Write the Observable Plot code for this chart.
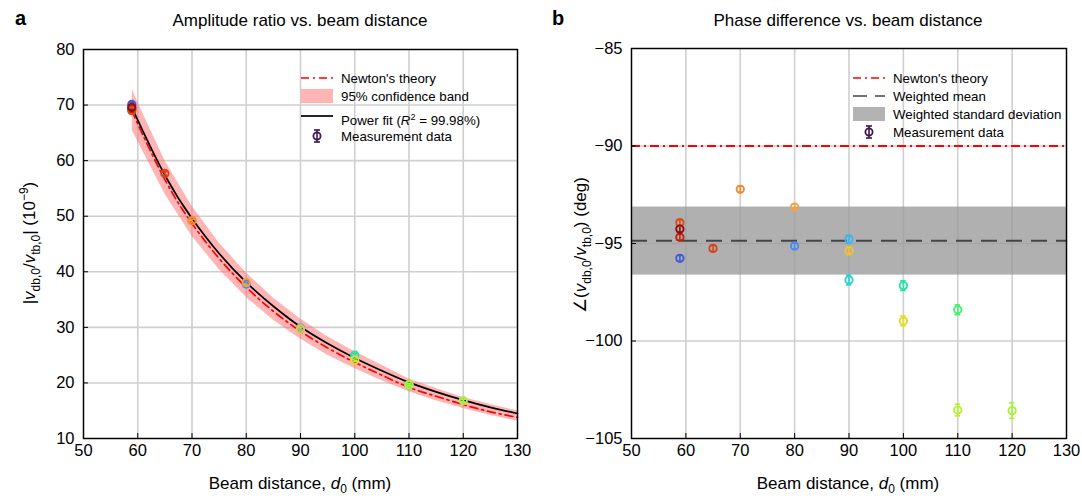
<!DOCTYPE html>
<html><head><meta charset="utf-8">
<script src="https://cdn.jsdelivr.net/npm/d3@7"></script>
<script src="https://cdn.jsdelivr.net/npm/@observablehq/plot@0.6"></script>
<style>
body{margin:0;background:#fff;font-family:"Liberation Sans",Arial,sans-serif;}
#wrap{position:relative;width:1082px;height:498px;display:flex;overflow:hidden;}
#wrap svg{display:block;}
.lg{position:absolute;height:18px;display:flex;align-items:center;font-size:13.3px;color:#000;white-space:nowrap;}
.lg svg{margin-right:8px;}
</style></head><body><div id="wrap"></div>
<script>
// ---------- data ----------
const xTicks = [50, 60, 70, 80, 90, 100, 110, 120, 130];
const ampTicks = [10, 20, 30, 40, 50, 60, 70, 80];
const phaseTicks = [-105, -100, -95, -90, -85];

// measurements (one entry per beam configuration)
const distances   = [58.9, 58.9, 58.9, 58.9, 65, 70, 80, 80, 90, 90, 90, 100, 100, 110, 110, 120];
const amplitude   = [70.1, 69.3, 69.0, 69.6, 57.7, 49.2, 37.8, 38.1, 29.8, 29.9, 29.7, 25.0, 24.1, 19.6, 19.7, 16.8];
const amplitudeErr= [0.4, 0.4, 0.4, 0.4, 0.3, 0.3, 0.3, 0.3, 0.25, 0.25, 0.25, 0.25, 0.25, 0.2, 0.2, 0.2];
const phase       = [-95.76, -94.68, -93.93, -94.26, -95.25, -92.22, -95.13, -93.13, -96.87, -94.78, -95.37, -97.16, -98.97, -98.40, -103.54, -103.57];
const phaseErr    = [0.15, 0.15, 0.15, 0.15, 0.15, 0.15, 0.15, 0.15, 0.25, 0.2, 0.2, 0.25, 0.25, 0.25, 0.3, 0.4];
const pointColors = ["#3d5bd6", "#c41e0e", "#e04a1a", "#8e0b0b", "#d9421b", "#f28a2e", "#4a8cf2", "#f5a43c",
                     "#26d4d4", "#3ab6f2", "#f2c22e", "#22e6a6", "#dede22", "#44f070", "#b6f032", "#a6f23e"];

// curves
const curveD     = [59, 60, 65, 70, 75, 80, 85, 90, 95, 100, 105, 110, 115, 120, 125, 130];
const powerFit   = [69.6, 67.3, 57.4, 49.6, 43.3, 38.1, 33.8, 30.1, 27.1, 24.5, 22.2, 20.1, 18.4, 16.9, 15.6, 14.5];
const newton     = [69.0, 66.6, 56.6, 48.7, 42.4, 37.2, 32.9, 29.3, 26.3, 23.7, 21.4, 19.2, 17.6, 16.1, 14.8, 13.8];
const bandLow    = [65.4, 63.5, 54.0, 46.4, 40.4, 35.4, 31.3, 27.9, 25.0, 22.6, 20.4, 18.4, 16.8, 15.4, 14.2, 13.1];
const bandHigh   = [72.8, 70.5, 60.0, 51.8, 45.2, 39.8, 35.3, 31.5, 28.3, 25.6, 23.2, 20.7, 19.0, 17.4, 16.1, 15.0];

// phase panel reference values
const newtonPhase = [-90];
const weightedMean = [-94.86];
const weightedSD = [{lo: -96.62, hi: -93.13}];

// ---------- tables ----------
const meas = distances.map((d, i) => ({
  d, a: amplitude[i], ae: amplitudeErr[i], p: phase[i], pe: phaseErr[i], c: pointColors[i]
}));
const curves = curveD.map((d, i) => ({d, fit: powerFit[i], nt: newton[i], lo: bandLow[i], hi: bandHigh[i]}));

const FONT = "Liberation Sans, Arial, sans-serif";
const gridStyle = {stroke: "#cfcfcf", strokeOpacity: 1, strokeWidth: 1.6};

function errorMarks(yKey, eKey) {
  return [
    Plot.ruleX(meas, {x: "d", y1: r => r[yKey] - r[eKey], y2: r => r[yKey] + r[eKey], stroke: "c", strokeWidth: 1.6}),
    Plot.ruleY(meas, {y: r => r[yKey] - r[eKey], x1: r => r.d - 0.5, x2: r => r.d + 0.5, stroke: "c", strokeWidth: 1.6}),
    Plot.ruleY(meas, {y: r => r[yKey] + r[eKey], x1: r => r.d - 0.5, x2: r => r.d + 0.5, stroke: "c", strokeWidth: 1.6}),
    Plot.dot(meas, {x: "d", y: yKey, r: 3.7, stroke: "c", strokeWidth: 1.9, fill: "none"})
  ];
}

const left = Plot.plot({
  width: 541, height: 498,
  marginLeft: 83, marginRight: 24, marginTop: 49, marginBottom: 60,
  style: {fontFamily: FONT, fontSize: "16.5px", color: "#000", background: "#fff", overflow: "visible"},
  color: {type: "identity"},
  x: {domain: [50, 130]},
  y: {domain: [10, 80]},
  marks: [
    Plot.gridX(xTicks, gridStyle),
    Plot.gridY(ampTicks, gridStyle),
    Plot.areaY(curves, {x: "d", y1: "lo", y2: "hi", fill: "#ff6b6b", fillOpacity: 0.5}),
    Plot.line(curves, {x: "d", y: "nt", stroke: "#ff0000", strokeWidth: 1.7, strokeDasharray: "8,4,2,4", curve: "natural"}),
    Plot.line(curves, {x: "d", y: "fit", stroke: "#000", strokeWidth: 1.7, curve: "natural"}),
    ...errorMarks("a", "ae"),
    Plot.frame({stroke: "#000", strokeWidth: 1.4}),
    Plot.axisX({ticks: xTicks, tickSize: -5, tickPadding: 11, label: null, tickFormat: d3.format("d")}),
    Plot.axisY({ticks: ampTicks, tickSize: -5, tickPadding: 14, label: null, tickFormat: d3.format("d")})
  ]
});

const right = Plot.plot({
  width: 541, height: 498,
  marginLeft: 90, marginRight: 16, marginTop: 48, marginBottom: 60,
  style: {fontFamily: FONT, fontSize: "16.5px", color: "#000", background: "#fff", overflow: "visible"},
  color: {type: "identity"},
  x: {domain: [50, 130]},
  y: {domain: [-105, -85]},
  marks: [
    Plot.gridX(xTicks, gridStyle),
    Plot.gridY(phaseTicks, gridStyle),
    Plot.rect(weightedSD, {y1: "lo", y2: "hi", fill: "#9a9a9a", fillOpacity: 0.78}),
    Plot.ruleY(newtonPhase, {stroke: "#ff0000", strokeWidth: 2, strokeDasharray: "9,4,2,4"}),
    Plot.ruleY(weightedMean, {stroke: "#444", strokeWidth: 2, strokeDasharray: "16,9"}),
    ...errorMarks("p", "pe"),
    Plot.frame({stroke: "#000", strokeWidth: 1.4}),
    Plot.axisX({ticks: xTicks, tickSize: -5, tickPadding: 11, label: null, tickFormat: d3.format("d")}),
    Plot.axisY({ticks: phaseTicks, tickSize: -5, tickPadding: 14, label: null})
  ]
});

// ---------- text helpers ----------
function addText(svg, x, y, rotate, parts, size, weight, anchor) {
  const t = d3.select(svg).append("text")
    .attr("transform", `translate(${x},${y}) rotate(${rotate})`)
    .attr("text-anchor", anchor || "middle")
    .attr("fill", "#000")
    .style("font-family", FONT)
    .style("font-size", size + "px")
    .style("font-weight", weight || "normal");
  parts.forEach(p => {
    const s = t.append("tspan").text(p.t);
    if (p.i) s.style("font-style", "italic");
    if (p.dy) s.attr("dy", p.dy);
    if (p.s) s.style("font-size", p.s + "px");
  });
}
const sub = (t, dy) => ({t, dy: dy || 5, s: 12});
const back = (t, dy) => ({t, dy: dy || -5});

// left texts
addText(left, 15, 25, 0, [{t: "a"}], 20, "bold", "start");
addText(left, 300, 26, 0, [{t: "Amplitude ratio vs. beam distance"}], 17);
addText(left, 300, 489, 0, [{t: "Beam distance, "}, {t: "d", i: 1}, sub("0", 4), back(" (mm)", -4)], 17);
addText(left, 35, 243, -90, [{t: "|"}, {t: "v", i: 1}, sub("db,0"), back("/"), {t: "v", i: 1}, sub("tb,0"), back("| (10"),
  {t: "−9", dy: -7, s: 12}, {t: ")", dy: 7}], 17);

// right texts
addText(right, 11, 25, 0, [{t: "b"}], 20, "bold", "start");
addText(right, 307, 26, 0, [{t: "Phase difference vs. beam distance"}], 17);
addText(right, 307, 489, 0, [{t: "Beam distance, "}, {t: "d", i: 1}, sub("0", 4), back(" (mm)", -4)], 17);
addText(right, 45, 245, -90, [{t: "∠("}, {t: "v", i: 1}, sub("db,0"), back("/"), {t: "v", i: 1}, sub("tb,0"), back(") (deg)")], 17);

const wrap = document.getElementById("wrap");
wrap.appendChild(left);
wrap.appendChild(right);

// ---------- legends ----------
const measSwatch = `<svg width="32" height="18"><line x1="16" x2="16" y1="3" y2="15" stroke="#3c1654" stroke-width="1.6"/><line x1="13" x2="19" y1="3" y2="3" stroke="#3c1654" stroke-width="1.6"/><line x1="13" x2="19" y1="15" y2="15" stroke="#3c1654" stroke-width="1.6"/><circle cx="16" cy="9" r="3.6" fill="none" stroke="#3c1654" stroke-width="1.8"/></svg>`;
const legends = [
  {x: 301, y: 78, sw: `<svg width="32" height="10"><line x1="0" x2="32" y1="5" y2="5" stroke="#ff0000" stroke-width="1.7" stroke-dasharray="8,4,2,4"/></svg>`, html: "Newton's theory"},
  {x: 301, y: 96, sw: `<svg width="32" height="14"><rect width="32" height="14" fill="#ffb5b5"/></svg>`, html: "95% confidence band"},
  {x: 301, y: 120, sw: `<svg width="32" height="10"><line x1="0" x2="32" y1="1" y2="1" stroke="#000" stroke-width="1.7"/></svg>`, html: `Power fit (<i>R</i><sup style="font-size:9px">2</sup> = 99.98%)`},
  {x: 301, y: 136, sw: measSwatch, html: "Measurement data"},
  {x: 853, y: 78, sw: `<svg width="32" height="10"><line x1="0" x2="32" y1="5" y2="5" stroke="#ff0000" stroke-width="1.7" stroke-dasharray="8,4,2,4"/></svg>`, html: "Newton's theory"},
  {x: 853, y: 96, sw: `<svg width="32" height="10"><line x1="0" x2="32" y1="5" y2="5" stroke="#444" stroke-width="1.7" stroke-dasharray="14,8"/></svg>`, html: "Weighted mean"},
  {x: 853, y: 114, sw: `<svg width="32" height="14"><rect width="32" height="14" fill="#b3b3b3"/></svg>`, html: "Weighted standard deviation"},
  {x: 853, y: 132, sw: measSwatch, html: "Measurement data"}
];
legends.forEach(l => {
  const div = document.createElement("div");
  div.className = "lg";
  div.style.left = l.x + "px";
  div.style.top = (l.y - 9) + "px";
  div.innerHTML = l.sw + `<span>${l.html}</span>`;
  wrap.appendChild(div);
});
</script></body></html>
